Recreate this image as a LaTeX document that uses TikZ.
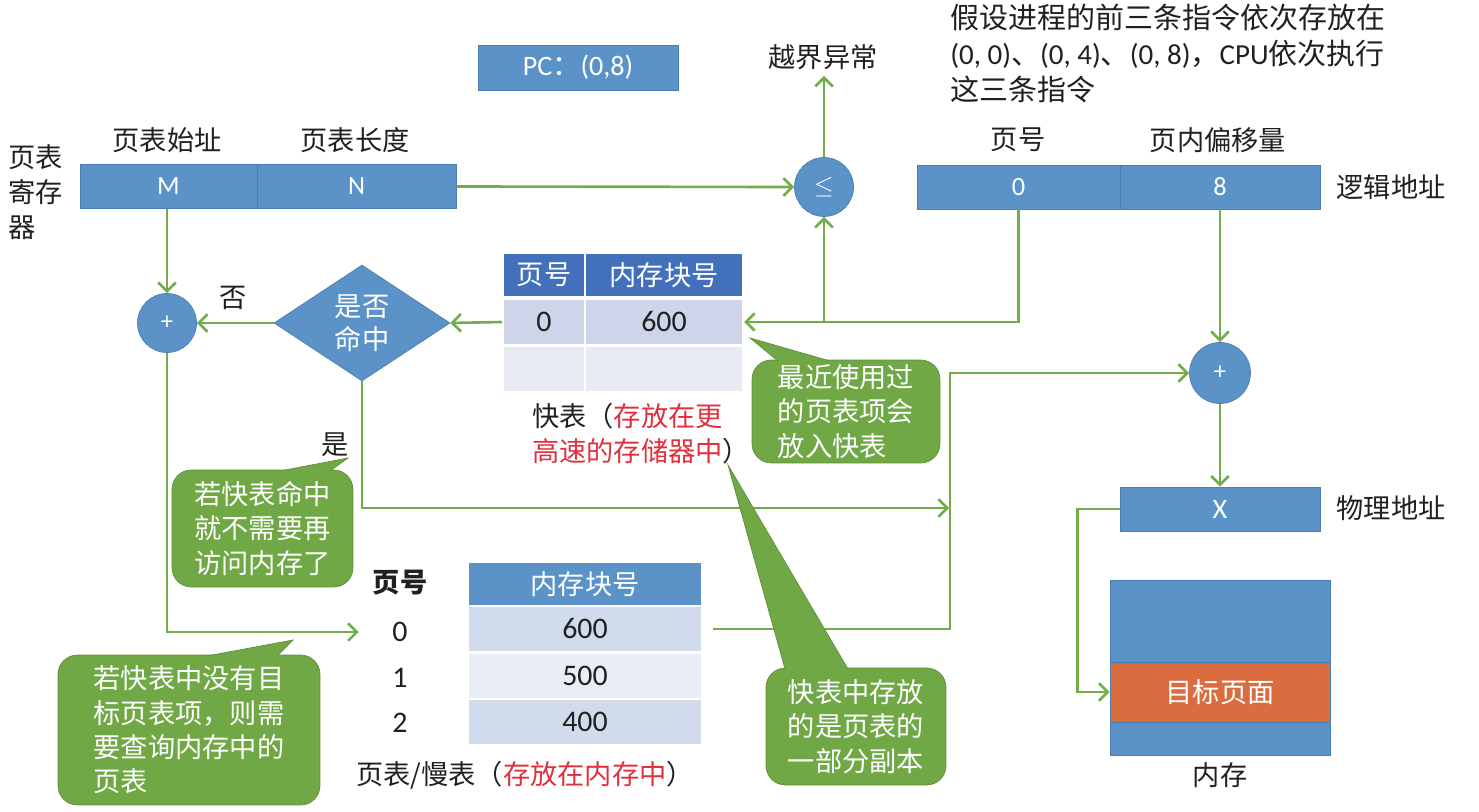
\documentclass[tikz,border=0pt]{standalone}
\usepackage{fontspec}
\setmainfont{Carlito}
\newfontfamily\cjk{Noto Sans CJK SC}
\newfontfamily\lat{Carlito}
\usepackage{tikz}
\usetikzlibrary{positioning,arrows.meta,shapes.geometric}

\definecolor{boxblue}{HTML}{5B93C8}
\definecolor{boxedge}{HTML}{4A7DB0}
\definecolor{headblue}{HTML}{4270BA}
\definecolor{tlbdark}{HTML}{CED4E9}
\definecolor{tlblight}{HTML}{E8EAF4}
\definecolor{ptdark}{HTML}{D0DCEC}
\definecolor{ptlight}{HTML}{E9EEF6}
\definecolor{linegreen}{HTML}{72AD4A}
\definecolor{notegreen}{HTML}{70A845}
\definecolor{noteedge}{HTML}{5E8E3A}
\definecolor{pageorange}{HTML}{D96D40}
\definecolor{hotred}{HTML}{E0303C}
\definecolor{inkgray}{HTML}{202020}

\tikzset{
  lbl/.style={font=\cjk\fontsize{15.5}{20}\selectfont, text=inkgray},
  num/.style={font=\lat\fontsize{17}{19}\selectfont, text=inkgray},
  blk/.style={draw=boxedge, fill=boxblue, text=white, inner sep=0, minimum height=0.88cm, font=\lat\fontsize{15}{17}\selectfont},
  addr/.style={circle, draw=boxedge, fill=boxblue, text=white, inner sep=0, minimum size=1.18cm, font=\lat\fontsize{14}{16}\selectfont},
  cell/.style={draw=white, line width=1.2pt, inner sep=0, minimum height=0.92cm, font=\lat\fontsize{17}{19}\selectfont, text=inkgray},
  hcell/.style={cell, fill=headblue, text=white, minimum height=0.88cm, font=\cjk\fontsize{15.5}{18}\selectfont},
  note/.style={draw=noteedge, fill=notegreen, rounded corners=11pt, text=white, align=left, inner sep=0, font=\cjk\fontsize{15.5}{19.5}\selectfont},
  tail/.style={draw=noteedge, fill=notegreen},
  flow/.style={draw=linegreen, line width=1.5pt, -{Straight Barb[length=5pt,width=10pt]}},
}

\begin{document}
\begin{tikzpicture}[x=0.02cm, y=-0.02cm]
\useasboundingbox (0,0) rectangle (1479,811);

\node[lbl, align=left, anchor=north west, inner sep=0] (regname) at (8,144) {页表\\寄存\\器};
\node[lbl] (startlbl) at (167,140) {页表始址};
\node[lbl] (lenlbl) at (355,140) {页表长度};
\node[blk, minimum width=3.54cm] (M) at (168.5,186.5) {M};
\node[blk, minimum width=3.98cm] (N) at (356.5,186.5) {N};

\node[blk, minimum width=4cm, minimum height=0.9cm, font=\lat\fontsize{16}{18}\selectfont] (pc) at (578,67.5) {PC{\cjk ：}(0,8)};

\node[addr] (le) at (824,187) {$\le$};
\node[lbl] (oob) at (823,57) {越界异常};

\node[lbl, align=left, anchor=north west, inner sep=0, font=\cjk\fontsize{16.5}{20.5}\selectfont] (task) at (950,4)
  {假设进程的前三条指令依次存放在\\{\lat (0, 0)}、{\lat (0, 4)}、{\lat (0, 8)}，{\lat CPU}依次执行\\这三条指令};

\node[lbl] (pglbl) at (1018,140) {页号};
\node[lbl] (offlbl) at (1218,140) {页内偏移量};
\node[blk, minimum width=4.06cm] (pg) at (1018.5,187) {0};
\node[blk, minimum width=4cm] (off) at (1220,187) {8};
\node[lbl] (logi) at (1391,187) {逻辑地址};

\node[hcell, minimum width=1.64cm] (th1) at (544,275) {页号};
\node[hcell, minimum width=3.16cm] (th2) at (664,275) {内存块号};
\node[cell, fill=tlbdark, minimum width=1.64cm] (t1a) at (544,322) {0};
\node[cell, fill=tlbdark, minimum width=3.16cm] (t1b) at (664,322) {600};
\node[cell, fill=tlblight, minimum width=1.64cm] (t2a) at (544,369) {};
\node[cell, fill=tlblight, minimum width=3.16cm] (t2b) at (664,369) {};
\node[lbl, align=left] (tlbcap) at (641,434) {快表（\textcolor{hotred}{存放在更}\\\textcolor{hotred}{高速的存储器中}）};

\node[diamond, shape aspect=1.5, draw=boxedge, fill=boxblue, text=white, inner sep=0, minimum width=3.52cm, minimum height=2.32cm, align=center, font=\cjk\fontsize{15.5}{18.5}\selectfont] (hit) at (362,323) {是否\\命中};
\node[addr] (addL) at (167,323) {+};
\node[lbl] (nolbl) at (233,298) {否};
\node[lbl] (yeslbl) at (335,445) {是};

\node[lbl, font=\cjk\bfseries\fontsize{15.5}{20}\selectfont] (pnh) at (400,583) {页号};
\node[num] (n0) at (400,632) {0};
\node[num] (n1) at (400,678) {1};
\node[num] (n2) at (400,723) {2};
\node[cell, fill=boxblue, text=white, minimum width=4.68cm, minimum height=0.88cm, font=\cjk\fontsize{15.5}{18}\selectfont] (ph) at (585,584) {内存块号};
\node[cell, fill=ptdark, minimum width=4.68cm] (p0) at (585,629) {600};
\node[cell, fill=ptlight, minimum width=4.68cm] (p1) at (585,676) {500};
\node[cell, fill=ptdark, minimum width=4.68cm] (p2) at (585,722) {400};
\node[lbl] (ptcap) at (525,775) {页表/慢表（\textcolor{hotred}{存放在内存中}）};

\node[addr, minimum size=1.22cm] (addR) at (1220,373) {+};
\node[blk, minimum width=4cm, font=\lat\fontsize{16}{18}\selectfont] (X) at (1220,509) {X};
\node[lbl] (phys) at (1391,508) {物理地址};

\node[draw=boxedge, fill=boxblue, minimum width=4.4cm, minimum height=3.5cm, inner sep=0] (mem) at (1220,667.5) {};
\node[draw=boxedge, fill=pageorange, text=white, minimum width=4.4cm, minimum height=1.2cm, inner sep=0, font=\cjk\fontsize{15.5}{18}\selectfont] (target) at (1220,692) {目标页面};
\node[lbl] (memlbl) at (1220,775) {内存};

\coordinate (join) at (950,629);
\coordinate (yes) at (949,508);

\draw[flow] (N.east) -- (le.west);
\draw[flow] (le.north) -- (le |- oob.south);
\draw[flow] (pg.south) |- (t1b.east);
\draw[flow] (le |- t1b.east) -- (le.south);
\draw[flow] (off.south) -- (addR.north);
\draw[flow] (t1a.west) -- (hit.east);
\draw[flow] (hit.west) -- (addL.east);
\draw[flow] (M.south -| addL.north) -- (addL.north);
\draw[flow] (hit.south) |- (yes);
\draw[flow] (addL.south) |- ([xshift=-0.55cm]n0.west);
\draw[flow] ([xshift=0.2cm]p0.east) -- (join) |- (addR.west);
\draw[flow] (addR.south) -- (X.north);
\draw[flow] (X.west) -- ++(-42,0) |- (target.west);

\node[note, minimum width=3.76cm, minimum height=2.06cm] (tip1) at (846,411.5) {最近使用过\\的页表项会\\放入快表};
\draw[tail] (778,361) -- (750,338) -- (830,361);
\node[note, minimum width=3.62cm, minimum height=2.34cm] (tip2) at (262.5,528.5) {若快表命中\\就不需要再\\访问内存了};
\draw[tail] (280,471) -- (348,458) -- (330,471);
\node[note, minimum width=5.24cm, minimum height=3cm] (tip3) at (189,730) {若快表中没有目\\标页表项，则需\\要查询内存中的\\页表};
\draw[tail] (207,656) -- (293,640) -- (277,656);
\node[note, minimum width=3.6cm, minimum height=2.34cm] (tip4) at (856,726.5) {快表中存放\\的是页表的\\一部分副本};
\draw[tail] (785,669) -- (728,465) -- (848,669);
\end{tikzpicture}
\end{document}
